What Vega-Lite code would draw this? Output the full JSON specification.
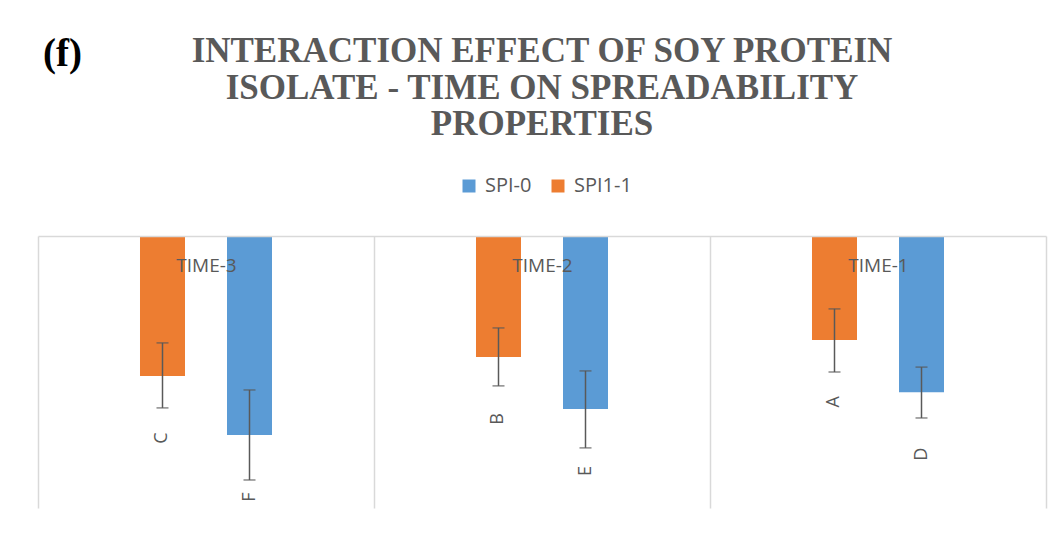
{
  "$schema": "https://vega.github.io/schema/vega-lite/v6.json",
  "width": 1008,
  "height": 272,
  "autosize": {"type": "none"},
  "padding": {"left": 38, "top": 236, "right": 16, "bottom": 25},
  "background": "white",
  "config": {"view": {"stroke": null}},
  "title": {
    "text": ["INTERACTION EFFECT OF SOY PROTEIN", "ISOLATE - TIME ON SPREADABILITY", "PROPERTIES"],
    "font": "Liberation Serif",
    "fontSize": 35,
    "fontWeight": "bold",
    "color": "#595959",
    "lineHeight": 36.5,
    "anchor": "middle",
    "offset": -108
  },
  "data": {
    "values": [
      {"time": "TIME-3", "series": "SPI1-1", "value": 5.15, "low": 3.93, "high": 6.32, "letter": "C"},
      {"time": "TIME-3", "series": "SPI-0", "value": 7.32, "low": 5.66, "high": 8.97, "letter": "F"},
      {"time": "TIME-2", "series": "SPI1-1", "value": 4.45, "low": 3.38, "high": 5.51, "letter": "B"},
      {"time": "TIME-2", "series": "SPI-0", "value": 6.36, "low": 4.96, "high": 7.79, "letter": "E"},
      {"time": "TIME-1", "series": "SPI1-1", "value": 3.82, "low": 2.68, "high": 5.0, "letter": "A"},
      {"time": "TIME-1", "series": "SPI-0", "value": 5.74, "low": 4.82, "high": 6.69, "letter": "D"}
    ]
  },
  "encoding": {
    "x": {
      "field": "time",
      "type": "nominal",
      "sort": ["TIME-3", "TIME-2", "TIME-1"],
      "scale": {"paddingInner": 0, "paddingOuter": 0},
      "axis": {
        "orient": "top",
        "title": "(f)",
        "titleX": 24,
        "titleY": -171,
        "titleAngle": 0,
        "titleAlign": "center",
        "titleBaseline": "alphabetic",
        "titleFont": "Liberation Serif",
        "titleFontSize": 39,
        "titleFontWeight": "bold",
        "titleColor": "#000000",
        "labelFont": "Open Sans",
        "labelFontSize": 19,
        "labelColor": "#595959",
        "labelPadding": -35,
        "labelBaseline": "alphabetic",
        "labelAngle": 0,
        "ticks": false,
        "tickSize": 0,
        "domainColor": "#D9D9D9",
        "domainWidth": 1.5,
        "grid": true,
        "gridColor": "#D9D9D9",
        "gridWidth": 1.5,
        "tickBand": "extent",
        "zindex": 1
      }
    },
    "xOffset": {
      "field": "series",
      "type": "nominal",
      "sort": ["SPI1-1", "SPI-0"],
      "scale": {"paddingInner": 0, "paddingOuter": 0.931}
    }
  },
  "layer": [
    {
      "mark": {"type": "bar", "width": 45},
      "encoding": {
        "y": {
          "field": "value",
          "type": "quantitative",
          "scale": {"domain": [0, 10], "reverse": true, "nice": false},
          "axis": null
        },
        "color": {
          "field": "series",
          "type": "nominal",
          "scale": {"domain": ["SPI-0", "SPI1-1"], "range": ["#5B9BD5", "#ED7D31"]},
          "legend": {
            "orient": "none",
            "legendX": 421,
            "legendY": -60,
            "direction": "horizontal",
            "title": null,
            "symbolType": "square",
            "symbolSize": 169,
            "symbolStrokeWidth": 0,
            "labelFont": "Open Sans",
            "labelFontSize": 20,
            "labelColor": "#595959",
            "labelOffset": 6,
            "columnPadding": 16,
            "padding": 0
          }
        }
      }
    },
    {
      "mark": {"type": "rule", "color": "#595959", "strokeWidth": 1.5},
      "encoding": {
        "y": {"field": "low", "type": "quantitative"},
        "y2": {"field": "high"}
      }
    },
    {
      "mark": {"type": "tick", "color": "#595959", "thickness": 1.5, "size": 12},
      "encoding": {"y": {"field": "low", "type": "quantitative"}}
    },
    {
      "mark": {"type": "tick", "color": "#595959", "thickness": 1.5, "size": 12},
      "encoding": {"y": {"field": "high", "type": "quantitative"}}
    },
    {
      "mark": {"type": "text", "angle": 270, "yOffset": 62, "align": "center", "baseline": "middle", "font": "Open Sans", "fontSize": 18, "color": "#595959"},
      "encoding": {
        "y": {"field": "value", "type": "quantitative"},
        "text": {"field": "letter"}
      }
    }
  ]
}
